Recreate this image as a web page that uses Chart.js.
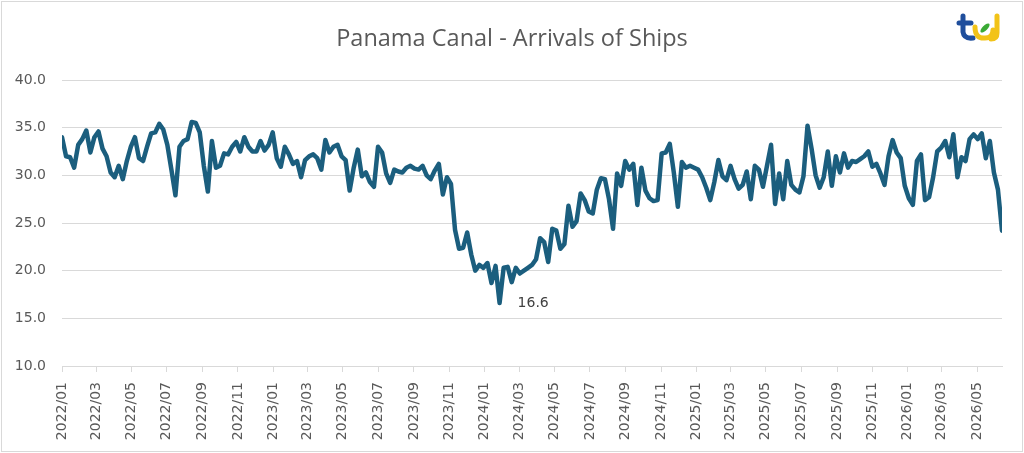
<!DOCTYPE html>
<html>
<head>
<meta charset="utf-8">
<script src="https://cdn.jsdelivr.net/npm/chart.js@4"></script>
<style>
  html, body { margin: 0; padding: 0; background: #fff; }
  #wrap { width: 1024px; height: 453px; }
</style>
</head>
<body>
<div id="wrap"><canvas id="arrivals" width="1024" height="453"></canvas></div>
<script>
// weekly readings, first one on 2022-01-01
const startDate = [2022, 0, 1];
const stepDays = 7;

const arrivals = [
  34.0, 32.0, 31.9, 30.8, 33.2, 33.8, 34.7, 32.4, 34.0, 34.6,
  32.8, 32.0, 30.3, 29.8, 31.0, 29.6, 31.5, 33.0, 34.0, 31.8,
  31.5, 33.0, 34.4, 34.5, 35.4, 34.8, 33.2, 30.6, 27.9, 33.0,
  33.6, 33.8, 35.6, 35.5, 34.5, 31.0, 28.3, 33.6, 30.8, 31.0,
  32.3, 32.2, 33.0, 33.5, 32.5, 34.0, 33.0, 32.5, 32.5, 33.6,
  32.6, 33.2, 34.5, 31.8, 30.9, 33.0, 32.2, 31.2, 31.5, 29.8,
  31.6, 32.0, 32.2, 31.8, 30.6, 33.7, 32.4, 33.0, 33.2, 32.0,
  31.6, 28.4, 30.8, 32.7, 29.9, 30.3, 29.3, 28.8, 33.0, 32.4,
  30.2, 29.2, 30.6, 30.4, 30.3, 30.8, 31.0, 30.7, 30.6, 31.0,
  30.0, 29.6, 30.5, 31.2, 28.0, 29.8, 29.1, 24.3, 22.3, 22.4,
  24.0, 21.7, 20.0, 20.6, 20.3, 20.8, 18.7, 20.5, 16.6, 20.3,
  20.4, 18.8, 20.3, 19.7, 20.0, 20.3, 20.6, 21.2, 23.4, 23.0,
  20.9, 24.4, 24.2, 22.3, 22.8, 26.8, 24.6, 25.2, 28.1, 27.4,
  26.2, 26.0, 28.5, 29.7, 29.6, 27.5, 24.4, 30.2, 28.9, 31.5,
  30.6, 31.2, 26.9, 30.8, 28.4, 27.6, 27.3, 27.4, 32.3, 32.4,
  33.3, 30.3, 26.7, 31.4, 30.8, 31.0, 30.8, 30.6, 29.8, 28.7,
  27.4, 29.3, 31.6, 29.9, 29.5, 31.0, 29.6, 28.6, 29.0, 30.4,
  27.5, 31.0, 30.6, 28.8, 31.0, 33.2, 27.0, 30.2, 27.5, 31.5,
  29.0, 28.5, 28.2, 29.9, 35.2, 32.8, 30.0, 28.7, 29.8, 32.5,
  28.9, 32.0, 30.3, 32.3, 30.8, 31.5, 31.4, 31.7, 32.0, 32.5,
  30.9, 31.2, 30.2, 29.0, 32.0, 33.7, 32.4, 31.8, 28.9, 27.6,
  26.9, 31.5, 32.2, 27.4, 27.7, 29.8, 32.5, 32.9, 33.6, 31.9,
  34.3, 29.8, 31.9, 31.5, 33.8, 34.3, 33.8, 34.4, 31.8, 33.6,
  30.3, 28.5, 24.2
];

const tickLabels = [
  '2022/01', '2022/03', '2022/05', '2022/07', '2022/09', '2022/11',
  '2023/01', '2023/03', '2023/05', '2023/07', '2023/09', '2023/11',
  '2024/01', '2024/03', '2024/05', '2024/07', '2024/09', '2024/11',
  '2025/01', '2025/03', '2025/05', '2025/07', '2025/09', '2025/11',
  '2026/01', '2026/03', '2026/05'
];

const yMin = 10;
const yMax = 40;
const yStep = 5;

const titleText = 'Panama Canal - Arrivals of Ships';
const lineColor = '#1b5e7e';
const textColor = '#595959';
const gridColor = '#d9d9d9';

const t0 = Date.UTC(startDate[0], startDate[1], startDate[2]);
function dayOf(label) {
  const parts = label.split('/');
  return Math.round((Date.UTC(+parts[0], +parts[1] - 1, 1) - t0) / 864e5);
}
const tickDays = tickLabels.map(dayOf);

const points = arrivals.map((v, i) => ({ x: i * stepDays, y: v }));

const frameAndTitle = {
  id: 'frameAndTitle',
  beforeDraw(chart) {
    const ctx = chart.ctx;
    ctx.save();
    ctx.fillStyle = '#fff';
    ctx.fillRect(0, 0, chart.width, chart.height);
    ctx.restore();
  },
  afterDraw(chart) {
    const ctx = chart.ctx;
    ctx.save();
    ctx.strokeStyle = gridColor;
    ctx.lineWidth = 1;
    ctx.strokeRect(1.5, 1.5, chart.width - 3, chart.height - 3);

    ctx.fillStyle = textColor;
    ctx.font = '23.5px "Open Sans"';
    ctx.textAlign = 'center';
    ctx.textBaseline = 'alphabetic';
    ctx.fillText(titleText, chart.width / 2, 46);

    // small logo, top right
    ctx.lineCap = 'round';
    ctx.lineJoin = 'round';
    ctx.strokeStyle = '#1f4e9c';
    ctx.lineWidth = 5;
    ctx.beginPath();
    ctx.moveTo(963, 16);
    ctx.lineTo(963, 32);
    ctx.quadraticCurveTo(964, 39, 973, 38);
    ctx.moveTo(959, 23);
    ctx.lineTo(971, 23);
    ctx.stroke();
    ctx.strokeStyle = '#f2c318';
    ctx.beginPath();
    ctx.moveTo(975, 27);
    ctx.quadraticCurveTo(975, 39, 985, 38);
    ctx.quadraticCurveTo(993, 38, 993, 30);
    ctx.moveTo(997, 16);
    ctx.lineTo(997, 33);
    ctx.quadraticCurveTo(997, 39, 991, 39);
    ctx.stroke();
    ctx.fillStyle = '#3aaa35';
    ctx.beginPath();
    ctx.ellipse(985, 28, 6, 2.5, -Math.PI / 4, 0, Math.PI * 2);
    ctx.fill();
    ctx.restore();
  }
};

const minLabel = {
  id: 'minLabel',
  afterDatasetsDraw(chart) {
    const meta = chart.getDatasetMeta(0);
    let iMin = 0;
    arrivals.forEach((v, i) => { if (v < arrivals[iMin]) iMin = i; });
    const pt = meta.data[iMin];
    const ctx = chart.ctx;
    ctx.save();
    ctx.fillStyle = '#404040';
    ctx.font = '14px "DejaVu Sans"';
    ctx.textAlign = 'left';
    ctx.textBaseline = 'middle';
    ctx.fillText(arrivals[iMin].toFixed(1), pt.x + 18, pt.y);
    ctx.restore();
  }
};

new Chart(document.getElementById('arrivals'), {
  type: 'line',
  data: {
    datasets: [{
      label: 'Arrivals',
      data: points,
      borderColor: lineColor,
      borderWidth: 4.5,
      pointRadius: 0,
      tension: 0,
      borderJoinStyle: 'round',
      borderCapStyle: 'round',
      fill: false
    }]
  },
  options: {
    responsive: false,
    animation: false,
    layout: { padding: { top: 80, right: 22, bottom: 0, left: 0 } },
    plugins: {
      legend: { display: false },
      title: { display: false },
      tooltip: { enabled: false }
    },
    scales: {
      x: {
        type: 'linear',
        min: 0,
        max: (arrivals.length - 1) * stepDays,
        afterBuildTicks(scale) {
          scale.ticks = tickDays.map(d => ({ value: d }));
        },
        afterFit(scale) { scale.height = 87; },
        ticks: {
          autoSkip: false,
          minRotation: 90,
          maxRotation: 90,
          padding: 10,
          color: textColor,
          font: { family: 'DejaVu Sans', size: 14 },
          callback: (v) => tickLabels[tickDays.indexOf(v)]
        },
        grid: {
          drawOnChartArea: false,
          color: gridColor,
          tickLength: 6
        },
        border: { color: gridColor }
      },
      y: {
        min: yMin,
        max: yMax,
        afterFit(scale) { scale.width = 62; },
        ticks: {
          stepSize: yStep,
          padding: 16,
          color: textColor,
          font: { family: 'DejaVu Sans', size: 14 },
          callback: (v) => v.toFixed(1)
        },
        grid: { color: gridColor, drawTicks: false },
        border: { display: false }
      }
    }
  },
  plugins: [frameAndTitle, minLabel]
});
</script>
</body>
</html>
